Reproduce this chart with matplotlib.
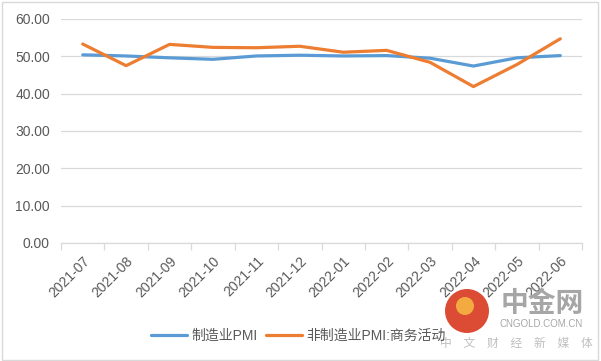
import numpy as np
import matplotlib
matplotlib.use("Agg")
import matplotlib.pyplot as plt
from matplotlib.patches import Ellipse, Rectangle

plt.rcParams['font.family'] = ['Liberation Sans', 'Noto Sans CJK SC', 'DejaVu Sans']

# data
months = ["2021-07", "2021-08", "2021-09", "2021-10", "2021-11", "2021-12",
          "2022-01", "2022-02", "2022-03", "2022-04", "2022-05", "2022-06"]
mfg_pmi = [50.4, 50.1, 49.6, 49.2, 50.1, 50.3, 50.1, 50.2, 49.5, 47.4, 49.6, 50.2]
non_mfg_pmi = [53.3, 47.5, 53.2, 52.4, 52.3, 52.7, 51.1, 51.6, 48.4, 41.9, 47.8, 54.7]
yticks = [0, 10, 20, 30, 40, 50, 60]

fig = plt.figure(figsize=(6.01, 3.61), dpi=100)
ax = fig.add_axes([61/601, 1 - 243/361, (582 - 61)/601, (243 - 19)/361])

x = np.arange(len(months))
ax.plot(x, mfg_pmi, color="#5B9BD5", lw=2.3, label="制造业PMI", solid_capstyle="round")
ax.plot(x, non_mfg_pmi, color="#ED7D31", lw=2.3, label="非制造业PMI:商务活动", solid_capstyle="round")

ax.set_xlim(-0.5, len(months) - 0.5)
ax.set_ylim(0, 60)
ax.set_yticks(yticks)
ax.set_yticklabels([f"{v:.2f}" for v in yticks], fontsize=10, color="#595959")
ax.yaxis.grid(True, color="#D9D9D9", lw=0.9)
ax.set_axisbelow(True)
ax.tick_params(axis="y", length=0, pad=8)

ax.set_xticks(x)
ax.set_xticklabels(months, rotation=45, ha="right", rotation_mode="anchor",
                   fontsize=10, color="#595959")
ax.set_xticks(np.arange(-0.5, len(months)), minor=True)
ax.tick_params(axis="x", which="major", length=0, pad=8)
ax.tick_params(axis="x", which="minor", length=5, color="#D9D9D9", width=0.9)

for s in ["top", "right", "left"]:
    ax.spines[s].set_visible(False)
ax.spines["bottom"].set_color("#D9D9D9")
ax.spines["bottom"].set_linewidth(0.9)

leg = fig.legend(loc="center", bbox_to_anchor=(298/601, 1 - 336/361), ncol=2,
                 frameon=False, fontsize=10, handlelength=2.6, columnspacing=0.6,
                 handletextpad=0.3, labelcolor="#595959")

# outer border
fig.patches.append(Rectangle((2/601, 1/361), 596/601, 358/361, transform=fig.transFigure,
                             fill=False, edgecolor="#D9D9D9", lw=1))

# watermark
fig.patches.append(Ellipse((467/601, 1 - 311/361), 44/601, 44/361, transform=fig.transFigure,
                           facecolor="#D9381E", edgecolor="none", alpha=0.9, zorder=5))
fig.patches.append(Ellipse((465/601, 1 - 306/361), 18/601, 18/361, transform=fig.transFigure,
                           facecolor="#F5B041", edgecolor="none", alpha=0.95, zorder=6))
fig.text(542/601, 1 - 304/361, "中金网", fontsize=20, color="#A6A6A6", weight="bold",
         ha="center", va="center", family=["Noto Sans CJK SC"], zorder=5)
fig.text(541/601, 1 - 324/361, "CNGOLD.COM.CN", fontsize=7, color="#A6A6A6",
         ha="center", va="center", zorder=5)
fig.text(516/601, 1 - 343/361, "中　文　财　经　新　媒　体", fontsize=8.5, color="#BFBFBF",
         ha="center", va="center", family=["Noto Sans CJK SC"], zorder=5)

fig.savefig("out.png", dpi=100)
